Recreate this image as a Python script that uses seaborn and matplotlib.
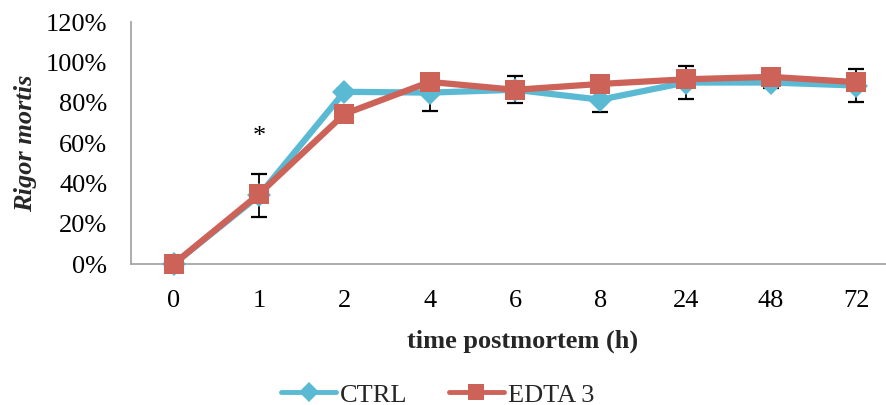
import matplotlib
matplotlib.use("Agg")
import matplotlib.pyplot as plt
import seaborn as sns
import pandas as pd
import numpy as np
from matplotlib.ticker import FuncFormatter

hours = ["0", "1", "2", "4", "6", "8", "24", "48", "72"]
ctrl = [0.0, 34.0, 85.4, 85.0, 86.4, 81.5, 90.0, 90.0, 88.5]
ctrl_err = [0.0, 10.6, 1.5, 9.3, 6.7, 6.0, 8.0, 2.5, 8.4]
edta3 = [0.0, 34.7, 74.4, 90.3, 86.4, 89.3, 91.6, 92.8, 90.2]

blue = "#5BBAD3"
red = "#CD6259"

sns.set_theme(style="white")
plt.rcParams["font.family"] = ["Liberation Serif", "DejaVu Serif"]

FS = 19

pos = np.arange(len(hours))
df = pd.DataFrame({
    "pos": np.concatenate([pos, pos]),
    "value": ctrl + edta3,
    "group": ["CTRL"] * len(hours) + ["EDTA 3"] * len(hours),
})

fig = plt.figure(figsize=(8.86, 4.05), dpi=100)
ax = fig.add_axes([0.1479, 0.3481, 0.8668, 0.5975])

# error bars sit behind the series markers
ax.errorbar(pos, ctrl, yerr=ctrl_err, fmt="none", ecolor="black",
            elinewidth=1.3, capsize=6, capthick=1.6, zorder=1)

sns.lineplot(data=df[df.group == "CTRL"], x="pos", y="value", ax=ax,
             color=blue, lw=4.5, marker="D", markersize=12,
             markeredgewidth=0, legend=False, zorder=3, clip_on=False)
sns.lineplot(data=df[df.group == "EDTA 3"], x="pos", y="value", ax=ax,
             color=red, lw=4.5, marker="s", markersize=15,
             markeredgewidth=0, legend=False, zorder=4, clip_on=False)

ax.text(1, 63, "*", ha="center", va="center", fontsize=19, color="black")

ax.set_xlim(-0.5, len(hours) - 0.5)
ax.set_ylim(0, 120)
ax.set_yticks(np.arange(0, 121, 20))
ax.yaxis.set_major_formatter(FuncFormatter(lambda v, _: f"{int(v)}%"))
ax.set_xticks(pos)
ax.set_xticklabels(hours)
ax.tick_params(axis="both", length=0, labelsize=FS, colors="black")
ax.tick_params(axis="x", pad=19)
ax.tick_params(axis="y", pad=17)

for side in ("top", "right"):
    ax.spines[side].set_visible(False)
for side in ("left", "bottom"):
    ax.spines[side].set_color("#A6A6A6")
    ax.spines[side].set_linewidth(1.3)
    ax.spines[side].set_zorder(2)

ax.set_xlabel("time postmortem (h)", fontsize=FS, fontweight="bold")
ax.xaxis.set_label_coords(0.51, -0.27)
ax.set_ylabel("Rigor mortis", fontsize=FS, fontweight="bold", style="italic")
ax.yaxis.set_label_coords(-0.122, 0.5)

handles = [
    plt.Line2D([], [], color=blue, lw=3.5, marker="D", markersize=10,
               markeredgewidth=0),
    plt.Line2D([], [], color=red, lw=3.5, marker="s", markersize=12,
               markeredgewidth=0),
]
fig.legend(handles, ["CTRL", "EDTA 3"], loc="center", ncol=2,
           bbox_to_anchor=(0.494, 0.025), frameon=False, fontsize=FS,
           handlelength=2.1, handletextpad=0.15, columnspacing=1.55)

fig.savefig("out.png", dpi=100, facecolor="white")
